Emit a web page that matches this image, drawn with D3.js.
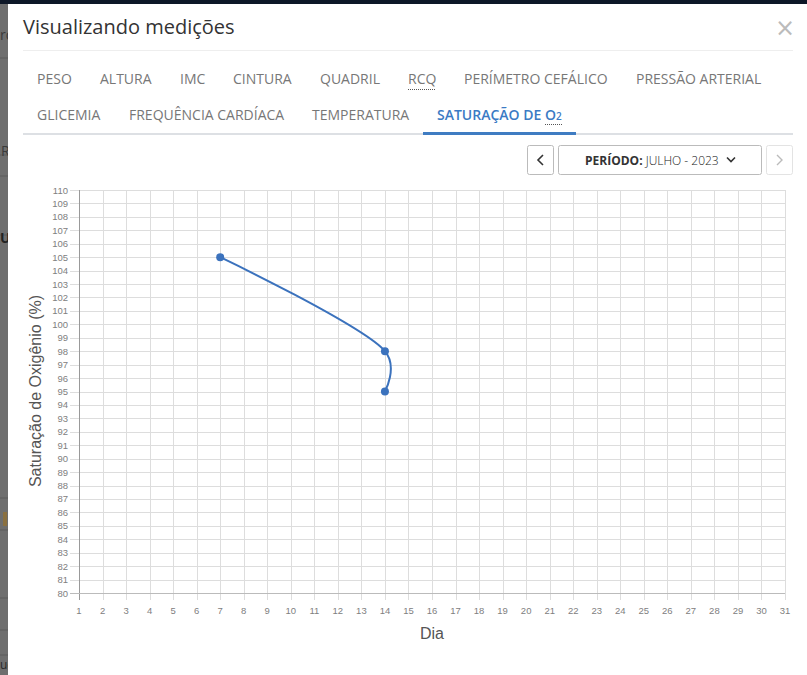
<!DOCTYPE html>
<html>
<head>
<meta charset="utf-8">
<script src="https://cdn.jsdelivr.net/npm/d3@7"></script>
<style>
html,body{margin:0;padding:0;background:#fff;overflow:hidden;}
svg{display:block;}
</style>
</head>
<body>
<script>
// ---- data ----
const measureDays = [7, 14, 14];
const measureValues = [105, 98, 95];
const xTickLabels = [1,2,3,4,5,6,7,8,9,10,11,12,13,14,15,16,17,18,19,20,21,22,23,24,25,26,27,28,29,30,31];
const yTickLabels = [80,81,82,83,84,85,86,87,88,89,90,91,92,93,94,95,96,97,98,99,100,101,102,103,104,105,106,107,108,109,110];
const tabsRow1 = ["PESO","ALTURA","IMC","CINTURA","QUADRIL","RCQ","PERÍMETRO CEFÁLICO","PRESSÃO ARTERIAL"];
const tabsRow2 = ["GLICEMIA","FREQUÊNCIA CARDÍACA","TEMPERATURA","SATURAÇÃO DE O"];
const titleText = "Visualizando medições";
const xTitle = "Dia";
const yTitle = "Saturação de Oxigênio (%)";
const periodLabel = "PERÍODO:";
const periodValue = "JULHO - 2023";

const W = 807, H = 675;
const svg = d3.select("body").append("svg").attr("width", W).attr("height", H);

// background page behind modal (overlay)
svg.append("rect").attr("x",0).attr("y",0).attr("width",W).attr("height",H).attr("fill","#6e6e6e");
svg.append("rect").attr("x",0).attr("y",0).attr("width",W).attr("height",4).attr("fill","#0d1727");
const bgLines = [58, 155, 176, 235, 498, 530, 598, 630, 655];
svg.selectAll(".bgl").data(bgLines).enter().append("line")
  .attr("x1",0).attr("x2",8).attr("y1",d=>d).attr("y2",d=>d).attr("stroke","#5a5a5a");
svg.append("text").attr("x",0).attr("y",40).attr("font-family","Open Sans").attr("font-size",14).attr("fill","#3a3a3a").text("ro");
svg.append("text").attr("x",1).attr("y",156).attr("font-family","Open Sans").attr("font-size",14).attr("fill","#3a3a3a").text("R");
svg.append("text").attr("x",0).attr("y",243).attr("font-family","Open Sans").attr("font-size",14).attr("font-weight","bold").attr("fill","#222").text("U");
svg.append("rect").attr("x",3).attr("y",512).attr("width",4).attr("height",14).attr("fill","#8a7040");
svg.append("text").attr("x",0).attr("y",669).attr("font-family","Open Sans").attr("font-size",12).attr("fill","#2a2a2a").text("ue");

// modal
svg.append("rect").attr("x",8).attr("y",4).attr("width",W-8).attr("height",H-4).attr("fill","#fff");

svg.append("text").attr("x",23).attr("y",34).attr("font-family","Open Sans").attr("font-size",20)
  .attr("fill","#333").text(titleText);
svg.append("text").attr("x",785).attr("y",36).attr("text-anchor","middle").attr("font-family","DejaVu Sans")
  .attr("font-size",24).attr("fill","#bbb").text("×");
svg.append("line").attr("x1",23).attr("x2",793).attr("y1",50.5).attr("y2",50.5).attr("stroke","#eee");

// tabs
const tabX1 = [37,100,180,233,320,408,464,636];
const tabX2 = [37,129,312,437];
tabsRow1.forEach((t,i)=>{
  svg.append("text").attr("x",tabX1[i]).attr("y",84).attr("font-family","Open Sans")
    .attr("font-size",14).attr("fill","#777").text(t);
  if (t === "RCQ") {
    svg.append("line").attr("x1",408).attr("x2",436).attr("y1",89.5).attr("y2",89.5)
      .attr("stroke","#555").attr("stroke-dasharray","1,1");
  }
});
tabsRow2.forEach((t,i)=>{
  const active = i === tabsRow2.length-1;
  const tx = svg.append("text").attr("x",tabX2[i]).attr("y",120).attr("font-family","Open Sans")
    .attr("font-size",14).attr("fill",active?"#3b7bc4":"#777").attr("font-weight",active?600:400).text(t);
  if (active) {
    tx.append("tspan").attr("font-size",10).text("2");
  }
});
svg.append("line").attr("x1",545).attr("x2",562).attr("y1",124.5).attr("y2",124.5)
  .attr("stroke","#555").attr("stroke-dasharray","1,1");
svg.append("rect").attr("x",23).attr("y",133).attr("width",770).attr("height",2).attr("fill","#dde0e4");
svg.append("rect").attr("x",423).attr("y",132).attr("width",153).attr("height",3).attr("fill","#3f7cc2");

// period controls
svg.append("rect").attr("x",527.5).attr("y",145.5).attr("width",26).attr("height",29).attr("rx",2)
  .attr("fill","#fff").attr("stroke","#bbb");
svg.append("path").attr("d","M543,155 L538,160 L543,165").attr("fill","none").attr("stroke","#333").attr("stroke-width",1.6);
svg.append("rect").attr("x",558.5).attr("y",145.5).attr("width",203).attr("height",29).attr("rx",2)
  .attr("fill","#fff").attr("stroke","#bbb");
const pt = svg.append("text").attr("x",585).attr("y",164.5)
  .attr("font-family","Open Sans").attr("font-size",12).attr("fill","#333");
pt.append("tspan").attr("font-weight","bold").text(periodLabel);
pt.append("tspan").attr("font-weight",300).attr("fill","#222").text(" " + periodValue);
svg.append("path").attr("d","M727,157.5 L731,161.5 L735,157.5").attr("fill","none").attr("stroke","#333").attr("stroke-width",1.6);
svg.append("rect").attr("x",766.5).attr("y",145.5).attr("width",26).attr("height",29).attr("rx",2)
  .attr("fill","#fff").attr("stroke","#e3e3e3");
svg.append("path").attr("d","M777,155 L782,160 L777,165").attr("fill","none").attr("stroke","#bbb").attr("stroke-width",1.4);

// chart
const x = d3.scaleLinear().domain([1,31]).range([79,785]);
const y = d3.scaleLinear().domain([80,110]).range([593,190]);

const g = svg.append("g").attr("font-family","Liberation Sans, Arial, sans-serif");

// grid
g.selectAll(".vg").data(xTickLabels).enter().append("line")
  .attr("x1",d=>Math.round(x(d))+0.5).attr("x2",d=>Math.round(x(d))+0.5)
  .attr("y1",y(110)).attr("y2",y(80)+7).attr("stroke","#ddd");
g.selectAll(".hg").data(yTickLabels).enter().append("line")
  .attr("y1",d=>Math.round(y(d))+0.5).attr("y2",d=>Math.round(y(d))+0.5)
  .attr("x1",x(1)-9).attr("x2",x(31)).attr("stroke","#ddd");

// axis lines
g.append("line").attr("x1",Math.round(x(1))+0.5).attr("x2",Math.round(x(1))+0.5)
  .attr("y1",y(110)).attr("y2",y(80)+7).attr("stroke","#999");
g.append("line").attr("x1",x(1)-9).attr("x2",x(31)).attr("y1",Math.round(y(80))+0.5).attr("y2",Math.round(y(80))+0.5).attr("stroke","#bbb");

// tick labels
g.selectAll(".yl").data(yTickLabels).enter().append("text")
  .attr("x",x(1)-11).attr("y",d=>y(d)+3.5).attr("text-anchor","end")
  .attr("font-size",9.5).attr("fill","#808080").text(d=>d);
g.selectAll(".xl").data(xTickLabels).enter().append("text")
  .attr("x",d=>x(d)).attr("y",y(80)+21).attr("text-anchor","middle")
  .attr("font-size",9.5).attr("fill","#808080").text(d=>d);

// titles
g.append("text").attr("x",432).attr("y",639).attr("text-anchor","middle").attr("font-size",16)
  .attr("fill","#555").text(xTitle);
g.append("text").attr("transform","translate(41,391) rotate(-90)").attr("text-anchor","middle")
  .attr("font-size",16).attr("fill","#555").text(yTitle);

// series
const pts = measureDays.map((d,i)=>[d, measureValues[i]]);
const line = d3.line().x(d=>x(d[0])).y(d=>y(d[1])).curve(d3.curveCatmullRom.alpha(0.3));
g.append("path").datum(pts).attr("d",line).attr("fill","none").attr("stroke","#3b72bd").attr("stroke-width",2);
g.selectAll(".pt").data(pts).enter().append("circle")
  .attr("cx",d=>x(d[0])).attr("cy",d=>y(d[1])).attr("r",4).attr("fill","#3b72bd");
</script>
</body>
</html>
